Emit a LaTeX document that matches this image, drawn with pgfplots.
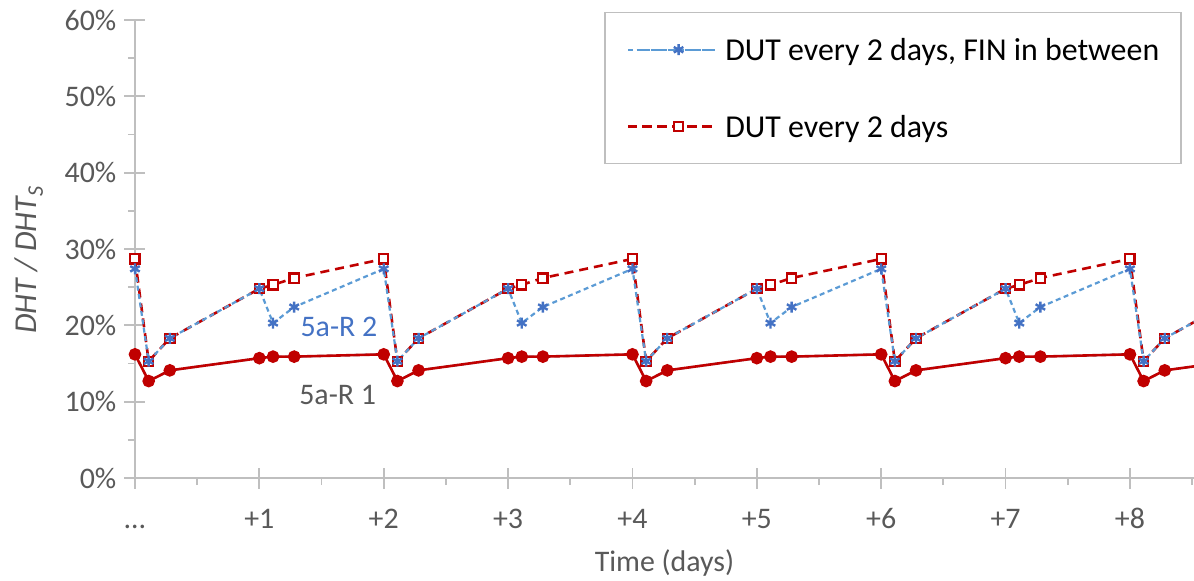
\documentclass[border=0pt]{standalone}
\usepackage{fontspec}
\setmainfont{Carlito}
\usepackage{pgfplots}
\usepackage{pgfplotstable}
\pgfplotsset{compat=1.18}
\definecolor{dred}{HTML}{C00000}
\definecolor{mblue}{HTML}{4472C4}
\definecolor{lblue}{HTML}{5B9BD5}
\definecolor{axgray}{HTML}{BFBFBF}
\definecolor{txtgray}{HTML}{595959}

\pgfplotstableread{
x y
0 28.7
0.11 15.3
0.28 18.3
1 24.8
1.11 25.3
1.28 26.2
2 28.7
2.11 15.3
2.28 18.3
3 24.8
3.11 25.3
3.28 26.2
4 28.7
4.11 15.3
4.28 18.3
5 24.8
5.11 25.3
5.28 26.2
6 28.7
6.11 15.3
6.28 18.3
7 24.8
7.11 25.3
7.28 26.2
8 28.7
8.11 15.3
8.28 18.3
9 24.8
}\rtwodut

\pgfplotstableread{
x y
0 27.4
0.11 15.3
0.28 18.3
1 24.8
1.11 20.3
1.28 22.4
2 27.4
2.11 15.3
2.28 18.3
3 24.8
3.11 20.3
3.28 22.4
4 27.4
4.11 15.3
4.28 18.3
5 24.8
5.11 20.3
5.28 22.4
6 27.4
6.11 15.3
6.28 18.3
7 24.8
7.11 20.3
7.28 22.4
8 27.4
8.11 15.3
8.28 18.3
9 24.8
}\rtwofin

\pgfplotstableread{
x y
0 16.2
0.11 12.7
0.28 14.1
1 15.7
1.11 15.9
1.28 15.9
2 16.2
2.11 12.7
2.28 14.1
3 15.7
3.11 15.9
3.28 15.9
4 16.2
4.11 12.7
4.28 14.1
5 15.7
5.11 15.9
5.28 15.9
6 16.2
6.11 12.7
6.28 14.1
7 15.7
7.11 15.9
7.28 15.9
8 16.2
8.11 12.7
8.28 14.1
9 15.7
}\ronedut

\pgfplotstableread{
x y
0 16.2
0.11 12.7
0.28 14.1
1 15.7
1.11 15.9
1.28 15.9
2 16.2
2.11 12.7
2.28 14.1
3 15.7
3.11 15.9
3.28 15.9
4 16.2
4.11 12.7
4.28 14.1
5 15.7
5.11 15.9
5.28 15.9
6 16.2
6.11 12.7
6.28 14.1
7 15.7
7.11 15.9
7.28 15.9
8 16.2
8.11 12.7
8.28 14.1
9 15.7
}\ronefin

\begin{document}
\begin{tikzpicture}
\path[use as bounding box] (-135bp,-103bp) rectangle (1059bp,478bp);
\begin{axis}[
  at={(0,0)}, anchor=south west,
  scale only axis, width=1059bp, height=458bp,
  xmin=0, xmax=8.515, ymin=0, ymax=60,
  clip=false,
  axis lines=left,
  axis line style={axgray, line width=1.8bp, -},
  tick align=center,
  major tick length=21bp,
  minor tick length=7bp,
  tick style={axgray, line width=1.8bp},
  minor x tick style={yshift=-3.5bp},
  minor y tick style={xshift=-3.5bp},
  xtick={0,1,2,3,4,5,6,7,8},
  xticklabels={{\dots},{+1},{+2},{+3},{+4},{+5},{+6},{+7},{+8}},
  minor xtick={0.5,1.5,2.5,3.5,4.5,5.5,6.5,7.5,8.5},
  ytick={0,10,20,30,40,50,60},
  minor ytick={5,15,25,35,45,55},
  yticklabel={\pgfmathprintnumber{\tick}\%},
  /pgf/number format/assume math mode=true,
  ticklabel style={font=\fontsize{30}{36}\selectfont, text=txtgray},
  xticklabel style={anchor=base, inner sep=0pt, yshift=-40bp},
  yticklabel style={anchor=east, inner sep=0pt, xshift=-8bp},
  xlabel={Time (days)},
  xlabel style={at={(axis description cs:0.5,0)}, anchor=base, inner sep=0pt, yshift=-93bp, font=\fontsize{30}{36}\selectfont, text=txtgray},
  ylabel={\textit{DHT / DHT\textsubscript{S}}},
  ylabel style={at={(axis description cs:-0.1,0.476)}, anchor=center, inner sep=0pt, font=\fontsize{32}{38}\selectfont, text=txtgray},
  reverse legend,
  legend style={
    at={(axis description cs:0.4429,1.0175)}, anchor=north west,
    draw=axgray, line width=1.5bp, fill=white,
    font=\fontsize{32}{38}\selectfont,
    inner xsep=22bp, inner ysep=22bp,
    row sep=47bp,
    nodes={inner sep=0pt, text height=26bp, text depth=4bp},
    /tikz/every odd column/.append style={column sep=9bp},
  },
  legend cell align=left,
  legend image code/.code={
    \path (0bp,0bp) -- (87bp,0bp);
    \draw[mark repeat=2,mark phase=2,#1] plot coordinates {(14bp,0bp) (50.5bp,0bp) (87bp,0bp)};
  },
]
\addplot[dred, line width=2.6bp, dash pattern=on 9bp off 6bp,
  mark=square*, mark size=4.6bp, mark options={solid, draw=dred, fill=white, line width=2.2bp}]
  table[x=x,y=y] {\rtwodut};
\addlegendentry{DUT every 2 days}
\addplot[lblue, line width=2.2bp, dash pattern=on 5bp off 3.5bp,
  mark=asterisk, mark size=5.5bp, mark options={solid, draw=mblue, line width=2.4bp}]
  table[x=x,y=y] {\rtwofin};
\addlegendentry{DUT every 2 days, FIN in between}
\addplot[lblue, line width=2.2bp, dash pattern=on 5bp off 3.5bp, forget plot,
  mark=asterisk, mark size=5.5bp, mark options={solid, draw=mblue, line width=2.4bp}]
  table[x=x,y=y] {\ronefin};
\addplot[dred, line width=2.6bp, forget plot,
  mark=*, mark size=5bp, mark options={solid, draw=dred, fill=dred}]
  table[x=x,y=y] {\ronedut};
\node[text=mblue, font=\fontsize{30}{36}\selectfont, inner sep=0pt] at (axis cs:1.64,19.8) {5a-R 2};
\node[text=txtgray, font=\fontsize{30}{36}\selectfont, inner sep=0pt] at (axis cs:1.63,10.9) {5a-R 1};
\end{axis}
\end{tikzpicture}
\end{document}
